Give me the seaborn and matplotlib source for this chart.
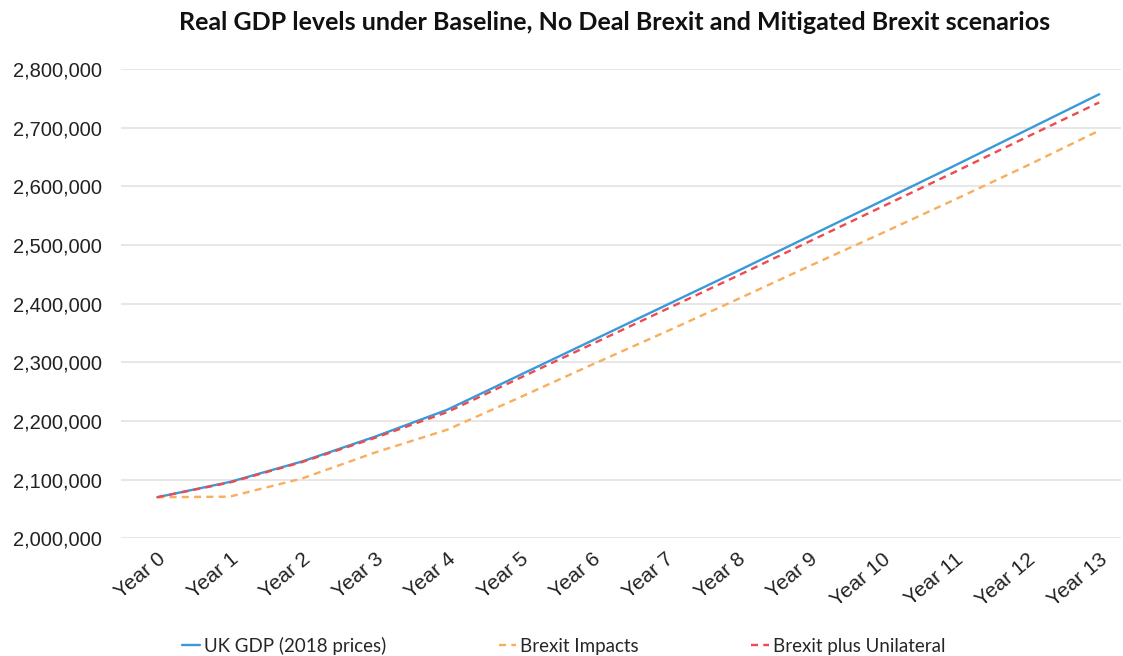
import matplotlib
matplotlib.use("Agg")
import matplotlib.pyplot as plt
import seaborn as sns
import pandas as pd
from matplotlib.ticker import FuncFormatter

years = ["Year 0", "Year 1", "Year 2", "Year 3", "Year 4", "Year 5", "Year 6",
         "Year 7", "Year 8", "Year 9", "Year 10", "Year 11", "Year 12", "Year 13"]
uk_gdp = [2070000, 2096000, 2131000, 2173000, 2219000, 2278000, 2337000,
          2396000, 2455000, 2515000, 2575000, 2635000, 2696000, 2757000]
brexit_impacts = [2070000, 2071000, 2102000, 2146000, 2185000, 2240000, 2296000,
                  2351000, 2407000, 2464000, 2520000, 2577000, 2635000, 2695000]
brexit_unilateral = [2070000, 2095000, 2130000, 2171000, 2215000, 2273000, 2331000,
                     2389000, 2447000, 2506000, 2565000, 2624000, 2684000, 2743000]
series_names = ["UK GDP (2018 prices)", "Brexit Impacts", "Brexit plus Unilateral"]

sns.set_theme(style="white")
plt.rcParams["font.family"] = ["Lato", "DejaVu Sans"]

rows = []
for name, vals in zip(series_names, [uk_gdp, brexit_impacts, brexit_unilateral]):
    for i, v in enumerate(vals):
        rows.append({"idx": i, "value": v, "series": name})
df = pd.DataFrame(rows)

fig = plt.figure(figsize=(11.23, 6.56), dpi=100)
ax = fig.add_axes([121 / 1123, (656 - 538.3) / 656, 1000 / 1123, (538.3 - 69) / 656])

palette = {"UK GDP (2018 prices)": "#3A9AD9",
           "Brexit Impacts": "#F8AE5C",
           "Brexit plus Unilateral": "#EE4A50"}
dashes = {"UK GDP (2018 prices)": "",
          "Brexit Impacts": (3, 2.2),
          "Brexit plus Unilateral": (3, 2.2)}
sns.lineplot(data=df, x="idx", y="value", hue="series", style="series",
             palette=palette, dashes=dashes, linewidth=1.7, ax=ax,
             hue_order=series_names, style_order=series_names)

ax.set_xlim(-0.5, -0.5 + 1000 / 72.46)
ax.set_ylim(2000000, 2800000)
ax.set_yticks(range(2000000, 2800001, 100000))
ax.yaxis.set_major_formatter(FuncFormatter(lambda v, p: f"{int(v):,}"))
ax.set_xticks(range(len(years)))
ax.set_xticklabels(years, rotation=40, ha="right", rotation_mode="anchor",
                   fontsize=15, family=["Liberation Sans", "DejaVu Sans"], color="#222222")
for lab in ax.get_yticklabels():
    lab.set_family(["Liberation Sans", "DejaVu Sans"])
    lab.set_fontsize(14.5)
    lab.set_color("#222222")
ax.tick_params(axis="y", pad=14, length=0)
ax.tick_params(axis="x", pad=8, length=0)
ax.grid(axis="y", color="#E3E3E3", linewidth=1.2)
ax.grid(axis="x", visible=False)
for s in ax.spines.values():
    s.set_visible(False)
ax.set_xlabel("")
ax.set_ylabel("")

fig.text(615 / 1123, 1 - 23 / 656,
         "Real GDP levels under Baseline, No Deal Brexit and Mitigated Brexit scenarios",
         ha="center", va="center", fontsize=18, fontweight="bold", color="#111111")

handles, labels = ax.get_legend_handles_labels()
ax.legend_.remove()
fig.legend(handles, labels, loc="center", bbox_to_anchor=(0.502, 1 - 646 / 656), ncol=3,
           frameon=False, fontsize=13.5, handlelength=0.95, handletextpad=0.2,
           columnspacing=6.0)

fig.savefig("out.png", dpi=100)
